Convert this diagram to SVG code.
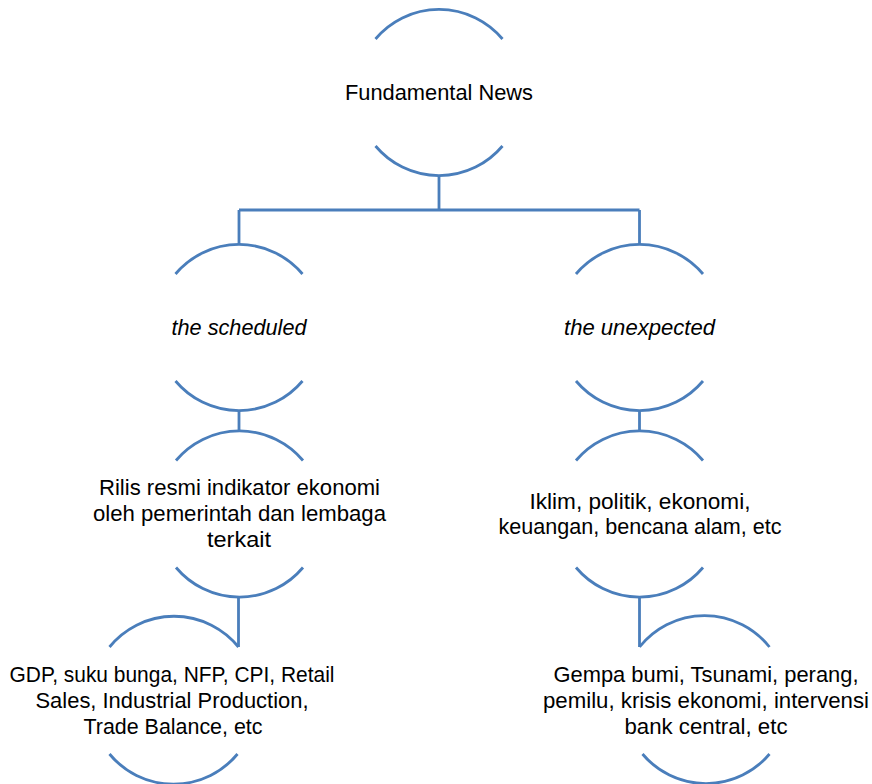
<svg xmlns="http://www.w3.org/2000/svg" width="872" height="784" viewBox="0 0 872 784">
<style>
.arc{fill:none;stroke:#4A7EBB;stroke-width:2.8}
.con{fill:none;stroke:#4A7EBB;stroke-width:2.8}
text{font-family:"Liberation Sans",Arial,sans-serif;font-size:22px;fill:#000;text-anchor:middle}
.it{font-style:italic}
</style>
<rect width="872" height="784" fill="#fff"/>
<g id="connectors">
<path class="con" d="M439 175.5V210M239 210H639.5M239 210V244.5M639.5 210V244.5"/>
<path class="con" d="M239 410.5V431M639.5 410.5V431"/>
<path class="con" d="M238.5 597V647M639.5 597V647"/>
</g>
<g id="n-fundamental">
<path class="arc" d="M375.5 39A83 83 0 0 1 502.5 39"/>
<path class="arc" d="M375.5 146A83 83 0 0 0 502.5 146"/>
<text x="439" y="100" textLength="188" lengthAdjust="spacingAndGlyphs">Fundamental News</text>
</g>
<g id="n-scheduled">
<path class="arc" d="M175.5 274A83 83 0 0 1 302.5 274"/>
<path class="arc" d="M175.5 381A83 83 0 0 0 302.5 381"/>
<text class="it" x="239" y="335" textLength="135" lengthAdjust="spacingAndGlyphs">the scheduled</text>
</g>
<g id="n-unexpected">
<path class="arc" d="M576 274A83 83 0 0 1 703 274"/>
<path class="arc" d="M576 381A83 83 0 0 0 703 381"/>
<text class="it" x="639.5" y="335" textLength="151" lengthAdjust="spacingAndGlyphs">the unexpected</text>
</g>
<g id="n-rilis">
<path class="arc" d="M176 460.5A83 83 0 0 1 303 460.5"/>
<path class="arc" d="M176 567.5A83 83 0 0 0 303 567.5"/>
<text x="239.5" y="495" textLength="281" lengthAdjust="spacingAndGlyphs">Rilis resmi indikator ekonomi</text>
<text x="239.5" y="521" textLength="293" lengthAdjust="spacingAndGlyphs">oleh pemerintah dan lembaga</text>
<text x="239" y="547" textLength="64" lengthAdjust="spacingAndGlyphs">terkait</text>
</g>
<g id="n-iklim">
<path class="arc" d="M576 460.5A83 83 0 0 1 703 460.5"/>
<path class="arc" d="M576 567.5A83 83 0 0 0 703 567.5"/>
<text x="640" y="508.5" textLength="221" lengthAdjust="spacingAndGlyphs">Iklim, politik, ekonomi,</text>
<text x="640" y="534" textLength="283" lengthAdjust="spacingAndGlyphs">keuangan, bencana alam, etc</text>
</g>
<g id="n-gdp">
<path class="arc" d="M109.5 647A83 83 0 0 1 238.5 647"/>
<path class="arc" d="M109.5 754A83 83 0 0 0 237.5 754"/>
<text x="172" y="681.5" textLength="325" lengthAdjust="spacingAndGlyphs">GDP, suku bunga, NFP, CPI, Retail</text>
<text x="172" y="707.5" textLength="273" lengthAdjust="spacingAndGlyphs">Sales, Industrial Production,</text>
<text x="173" y="734" textLength="179" lengthAdjust="spacingAndGlyphs">Trade Balance, etc</text>
</g>
<g id="n-gempa">
<path class="arc" d="M639.5 647A83 83 0 0 1 769.5 647"/>
<path class="arc" d="M642.5 754A83 83 0 0 0 769.5 754"/>
<text x="706" y="681.5" textLength="305" lengthAdjust="spacingAndGlyphs">Gempa bumi, Tsunami, perang,</text>
<text x="706" y="707.5" textLength="326" lengthAdjust="spacingAndGlyphs">pemilu, krisis ekonomi, intervensi</text>
<text x="706" y="734" textLength="163" lengthAdjust="spacingAndGlyphs">bank central, etc</text>
</g>
</svg>
